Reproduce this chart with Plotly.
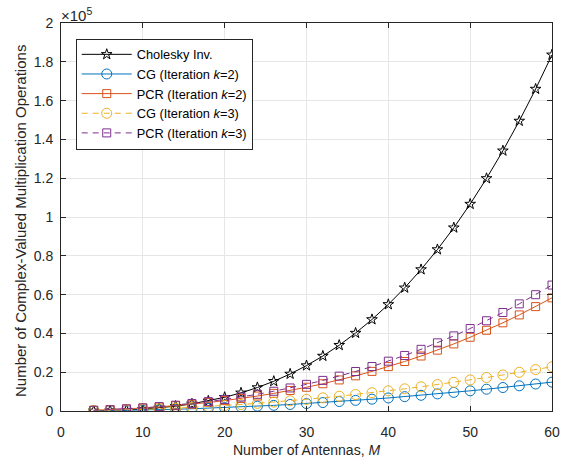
import plotly.graph_objects as go

M = [4, 6, 8, 10, 12, 14, 16, 18, 20, 22, 24, 26, 28, 30, 32, 34, 36, 38, 40,
     42, 44, 46, 48, 50, 52, 54, 56, 58, 60]

cholesky = [69, 216, 491, 933, 1584, 2483, 3669, 5184, 7067, 9357, 12096, 15323,
            19077, 23400, 28331, 33909, 40176, 47171, 54933, 63504, 72923, 83229,
            94464, 106667, 119877, 134136, 149483, 165957, 183600]
cg_k2 = [96, 192, 320, 480, 672, 896, 1152, 1440, 1760, 2112, 2496, 2912, 3360,
         3840, 4352, 4896, 5472, 6080, 6720, 7392, 8096, 8832, 9600, 10400, 11232,
         12096, 12992, 13920, 14880]
pcr_k2 = [376, 674, 1053, 1520, 2079, 2737, 3500, 4372, 5360, 6470, 7707, 9077,
          10586, 12240, 14044, 16004, 18127, 20417, 22880, 25523, 28350, 31368,
          34583, 38000, 41625, 45464, 49522, 53805, 58320]
cg_k3 = [176, 336, 544, 800, 1104, 1456, 1856, 2304, 2800, 3344, 3936, 4576, 5264,
         6000, 6784, 7616, 8496, 9424, 10400, 11424, 12496, 13616, 14784, 16000,
         17264, 18576, 19936, 21344, 22800]
pcr_k3 = [368, 686, 1101, 1620, 2247, 2989, 3852, 4840, 5960, 7218, 8619, 10169,
          11874, 13740, 15772, 17976, 20359, 22925, 25680, 28631, 31782, 35140,
          38711, 42500, 46513, 50756, 55234, 59953, 64920]

y_tickvals = [0, 20000, 40000, 60000, 80000, 100000, 120000, 140000, 160000, 180000, 200000]
y_ticktext = ["0", "0.2", "0.4", "0.6", "0.8", "1", "1.2", "1.4", "1.6", "1.8", "2"]
x_tickvals = [0, 10, 20, 30, 40, 50, 60]

series = [
    ("Cholesky Inv.", cholesky, "#000000", "solid", "star-open", 8),
    ("CG (Iteration <i>k</i>=2)", cg_k2, "#0072BD", "solid", "circle-open", 10),
    ("PCR (Iteration <i>k</i>=2)", pcr_k2, "#D95319", "solid", "square-open", 8),
    ("CG (Iteration <i>k</i>=3)", cg_k3, "#EDB120", "6px,5px", "circle-open", 10),
    ("PCR (Iteration <i>k</i>=3)", pcr_k3, "#7E2F8E", "6px,5px", "square-open", 8),
]

fig = go.Figure()
for name, vals, color, dash, sym, size in series:
    fig.add_trace(go.Scatter(
        x=M, y=vals, name=name, mode="lines+markers",
        line=dict(color=color, width=1, dash=dash),
        marker=dict(symbol=sym, size=size, color=color, line=dict(width=1, color=color)),
    ))

axis_color = "#262626"
font_family = "Liberation Sans, Arial, sans-serif"

fig.update_layout(
    width=571, height=461,
    margin=dict(l=61, r=19, t=23, b=50, autoexpand=False),
    paper_bgcolor="white", plot_bgcolor="white",
    font=dict(family=font_family, size=14, color=axis_color),
    showlegend=True,
    legend=dict(
        x=0.03, y=0.96, xanchor="left", yanchor="top",
        bgcolor="white", bordercolor=axis_color, borderwidth=1,
        font=dict(size=12.8, color="#000000"),
        tracegroupgap=0, itemwidth=50,
    ),
)

fig.update_xaxes(
    range=[0, 60], tickvals=x_tickvals, automargin=False,
    showgrid=True, gridcolor="#e6e6e6", gridwidth=1,
    showline=True, linecolor=axis_color, linewidth=1, mirror="ticks",
    ticks="inside", ticklen=5, tickcolor=axis_color,
    zeroline=False, ticklabelstandoff=8,
    tickfont=dict(size=14),
)
fig.update_yaxes(
    range=[0, 200000], tickvals=y_tickvals, ticktext=y_ticktext, automargin=False,
    showgrid=True, gridcolor="#e6e6e6", gridwidth=1,
    showline=True, linecolor=axis_color, linewidth=1, mirror="ticks",
    ticks="inside", ticklen=5, tickcolor=axis_color,
    zeroline=False, ticklabelstandoff=4,
    tickfont=dict(size=14),
)

# axis titles
fig.add_annotation(
    text="Number of Antennas, <i>M</i>", xref="paper", yref="paper",
    x=0.5, y=0, yanchor="middle", xanchor="center", yshift=-39, showarrow=False,
    font=dict(size=14, color=axis_color),
)
fig.add_annotation(
    text="Number of Complex-Valued Multiplication Operations", xref="paper", yref="paper",
    x=0, y=0.5, xanchor="center", yanchor="middle", xshift=-41, yshift=-4, textangle=-90,
    showarrow=False, font=dict(size=15, color=axis_color),
)

fig.add_annotation(
    text="\u00d710<sup>5</sup>", xref="paper", yref="paper",
    x=0.0, y=1.0, xanchor="left", yanchor="bottom", showarrow=False,
    font=dict(size=15, color=axis_color), yshift=-3, xshift=-2,
)

fig.write_html("out.html")
